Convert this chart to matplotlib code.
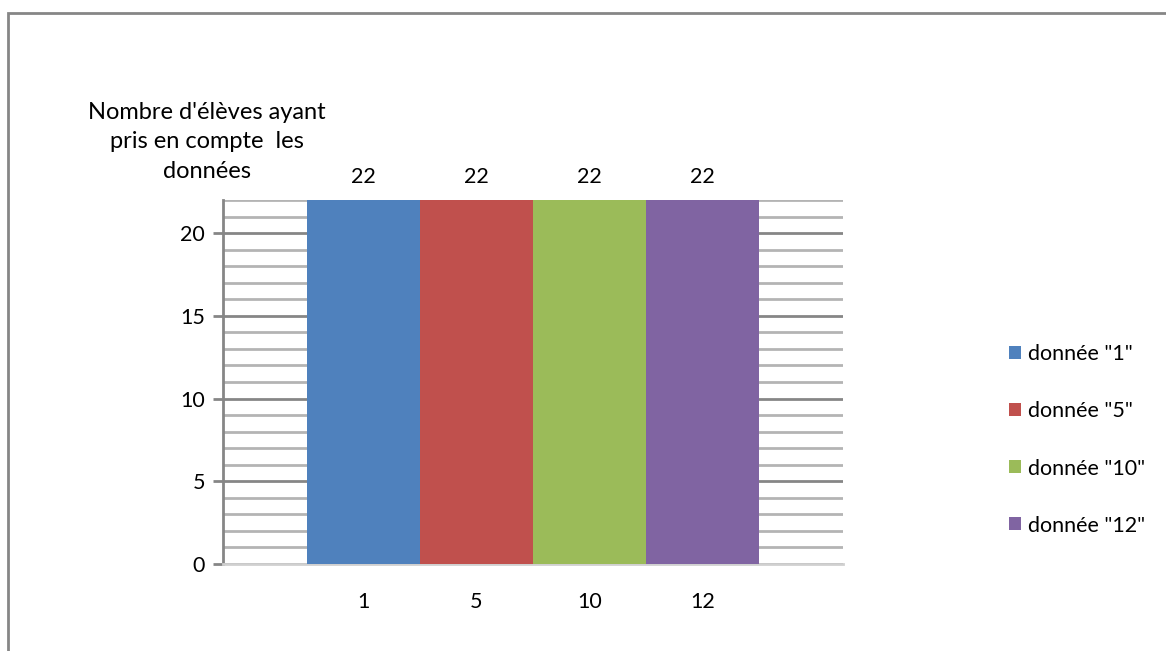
import matplotlib.pyplot as plt
from matplotlib.patches import Rectangle
from matplotlib.ticker import MultipleLocator

plt.rcParams['font.family'] = ['Lato', 'DejaVu Sans']

categories = ["1", "5", "10", "12"]
values = [22, 22, 22, 22]
series_labels = ['donnée "1"', 'donnée "5"', 'donnée "10"', 'donnée "12"']
colors = ["#4F81BD", "#C0504D", "#9BBB59", "#8064A2"]

fs = 15.5

fig = plt.figure(figsize=(11.66, 6.51), dpi=100)
ax = fig.add_axes([223 / 1166, 87 / 651, 620 / 1166, 364 / 651])

x = list(range(len(categories)))
bars = []
for i in x:
    b = ax.bar(i, values[i], width=1.0, color=colors[i], label=series_labels[i], zorder=3)
    bars.append(b)
    ax.text(i, values[i] + 0.8, str(values[i]), ha="center", va="bottom", fontsize=fs)

ax.set_xlim(-0.5 - 0.743, len(categories) - 0.5 + 0.743)
ax.set_ylim(0, 22)
ax.set_xticks(x)
ax.set_xticklabels(categories, fontsize=fs)
ax.tick_params(axis="x", length=0, pad=20)

ax.yaxis.set_major_locator(MultipleLocator(5))
ax.yaxis.set_minor_locator(MultipleLocator(1))
ax.tick_params(axis="y", which="major", length=7, width=2, color="#868686", labelsize=fs, pad=6)
ax.tick_params(axis="y", which="minor", length=0)
ax.grid(axis="y", which="minor", color="#b4b4b4", linewidth=2, zorder=0)
ax.grid(axis="y", which="major", color="#868686", linewidth=2, zorder=1)

for s in ["top", "right"]:
    ax.spines[s].set_visible(False)
ax.spines["left"].set_color("#868686")
ax.spines["left"].set_linewidth(2)
ax.spines["bottom"].set_color("#d0d0d0")
ax.spines["bottom"].set_linewidth(2)

fig.text(207 / 1166, 1 - 142 / 651, "Nombre d'élèves ayant\npris en compte  les\ndonnées",
         ha="center", va="center", fontsize=17, linespacing=1.5)

fig.legend(handles=[b for b in bars], labels=series_labels, loc="center left",
           bbox_to_anchor=(990 / 1166, 1 - 440 / 651), frameon=False, fontsize=fs,
           handlelength=0.55, handleheight=0.55, handletextpad=0.3, labelspacing=1.72)

# outer chart border
fig.patches.append(Rectangle((8 / 1166, -0.1), 1.2, 1 - 13 / 651 + 0.1,
                             transform=fig.transFigure, fill=False,
                             edgecolor="#868686", linewidth=2))

fig.savefig("out.png", dpi=100)
